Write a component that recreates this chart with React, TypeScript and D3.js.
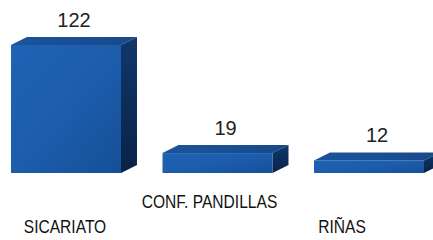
import React from "react";
import * as d3 from "d3";

// data
const categories = ["SICARIATO", "CONF. PANDILLAS", "RIÑAS"];
const values = [122, 19, 12];

// small nudges so the category labels sit where the original put them
const labelShift = [-1, -8, -27];

const W = 433, H = 240;
const base = 173, topY = 45;
const depthX = 16, depthY = 8;
const font = "'Liberation Sans', Arial, Helvetica, sans-serif";

export default function App() {
  const x = d3.scaleBand<string>()
    .domain(categories)
    .range([11, 424])
    .paddingInner(0.274)
    .paddingOuter(0);
  const y = d3.scaleLinear().domain([0, d3.max(values) as number]).range([base, topY]);
  const bw = x.bandwidth();

  return (
    <svg width={W} height={H} style={{ position: "absolute", left: 0, top: 0, background: "#fff" }}>
      <defs>
        <linearGradient id="front" x1="0" y1="0" x2="1" y2="1">
          <stop offset="0%" stopColor="#1f63b4" />
          <stop offset="50%" stopColor="#1c5dac" />
          <stop offset="100%" stopColor="#164f98" />
        </linearGradient>
        <linearGradient id="side" x1="0" y1="0" x2="0" y2="1">
          <stop offset="0%" stopColor="#10376c" />
          <stop offset="100%" stopColor="#092246" />
        </linearGradient>
        <linearGradient id="top" x1="0" y1="0" x2="1" y2="0">
          <stop offset="0%" stopColor="#1b539c" />
          <stop offset="100%" stopColor="#184a8b" />
        </linearGradient>
      </defs>
      {categories.map((c, i) => {
        const x0 = x(c) as number;
        const x1 = x0 + bw;
        const yt = y(values[i]);
        return (
          <g key={c}>
            <polygon
              points={`${x0},${yt} ${x1},${yt} ${x1 + depthX},${yt - depthY} ${x0 + depthX},${yt - depthY}`}
              fill="url(#top)"
            />
            <polygon
              points={`${x1},${yt} ${x1 + depthX},${yt - depthY} ${x1 + depthX},${base - depthY} ${x1},${base}`}
              fill="url(#side)"
            />
            <rect x={x0} y={yt} width={bw} height={base - yt} fill="url(#front)" />
            <text
              x={x0 + bw / 2 + depthX / 2}
              y={yt - depthY - 10}
              textAnchor="middle"
              fontFamily={font}
              fontSize={20}
              fill="#222"
            >
              {values[i]}
            </text>
            <text
              transform={`translate(${x0 + bw / 2 + labelShift[i]},${i % 2 === 0 ? 233 : 208}) scale(0.82,1)`}
              textAnchor="middle"
              fontFamily={font}
              fontSize={19}
              fill="#111"
            >
              {c}
            </text>
          </g>
        );
      })}
    </svg>
  );
}
